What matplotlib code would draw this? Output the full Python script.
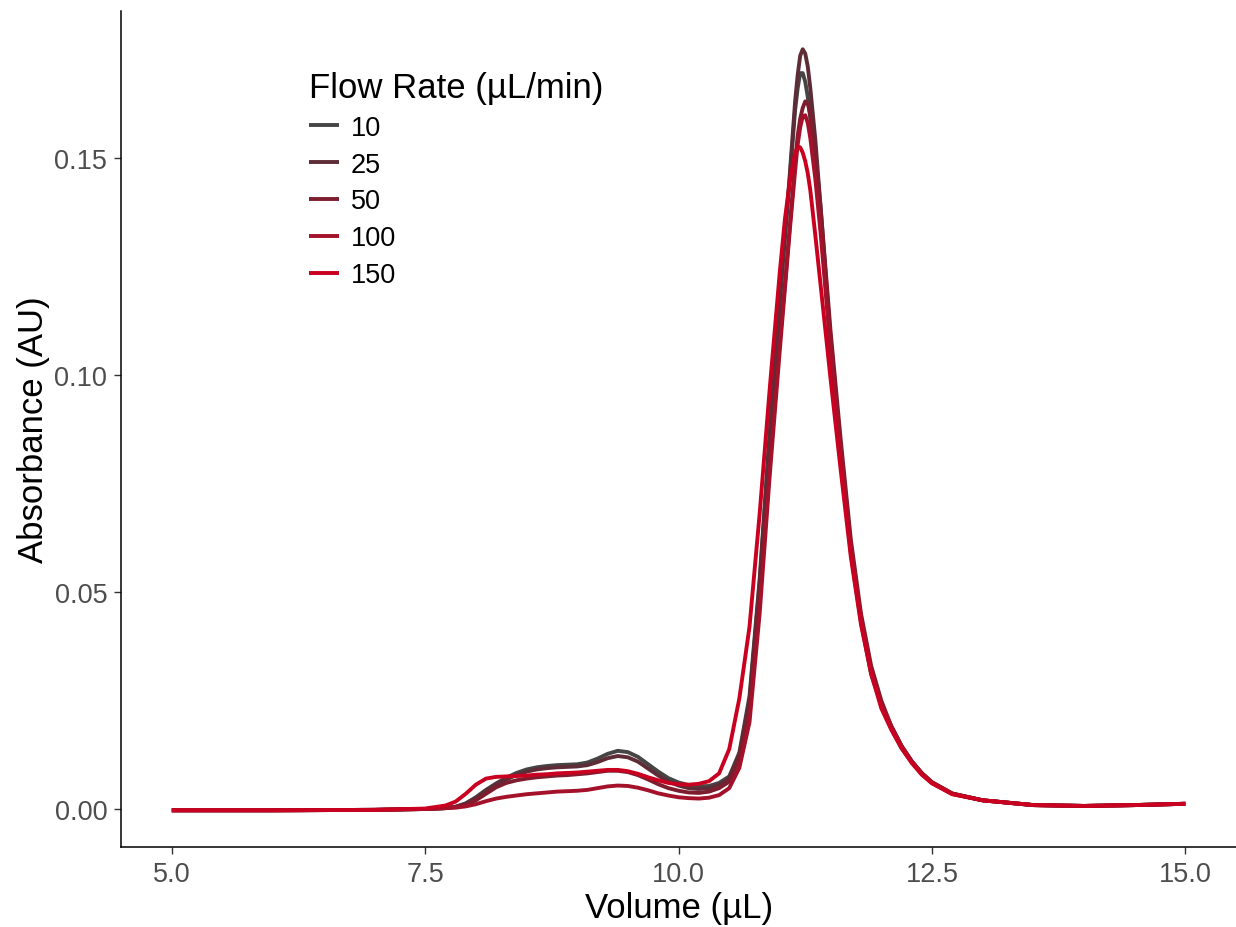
import numpy as np
import matplotlib
matplotlib.use("Agg")
import matplotlib.pyplot as plt

# elution volume (uL), shared by all runs
volume = [5.0, 6.0, 7.0, 7.5, 7.7, 7.8, 7.9,
          8.0, 8.1, 8.2, 8.3, 8.4, 8.5, 8.6, 8.7, 8.8, 8.9,
          9.0, 9.1, 9.2, 9.3, 9.4, 9.5, 9.6, 9.7, 9.8, 9.9,
          10.0, 10.1, 10.2, 10.3, 10.4, 10.5, 10.6, 10.7, 10.8, 10.9,
          11.0, 11.05, 11.1, 11.15, 11.175, 11.2, 11.225, 11.25, 11.275, 11.3, 11.35, 11.4,
          11.5, 11.6, 11.7, 11.8, 11.9,
          12.0, 12.1, 12.2, 12.3, 12.4, 12.5, 12.7, 13.0, 13.5, 14.0, 14.5, 15.0]

# absorbance (AU) per flow rate (uL/min)
abs_10 = [-0.0003, -0.0003, -0.0002, 0.0000, 0.0002, 0.0005, 0.0013,
          0.0027, 0.0044, 0.0059, 0.0072, 0.0083, 0.0091, 0.0096, 0.0099, 0.0101, 0.0102,
          0.0103, 0.0107, 0.0116, 0.0127, 0.0134, 0.0131, 0.0120, 0.0103, 0.0086, 0.0071,
          0.0061, 0.0055, 0.0052, 0.0053, 0.0060, 0.0075, 0.0130, 0.0260, 0.0530, 0.0870,
          0.1180, 0.1320, 0.1460, 0.1610, 0.1660, 0.1695, 0.1695, 0.1675, 0.1640, 0.1590, 0.1490, 0.1360,
          0.1060, 0.0810, 0.0590, 0.0430, 0.0310,
          0.0240, 0.0185, 0.0140, 0.0108, 0.0080, 0.0060, 0.0035, 0.0020, 0.0009, 0.0007, 0.0009, 0.0012]

abs_25 = [-0.0003, -0.0003, -0.0002, 0.0000, 0.0002, 0.0005, 0.0012,
          0.0025, 0.0042, 0.0057, 0.0068, 0.0078, 0.0086, 0.0091, 0.0094, 0.0096, 0.0097,
          0.0098, 0.0101, 0.0108, 0.0117, 0.0122, 0.0119, 0.0109, 0.0093, 0.0077, 0.0063,
          0.0054, 0.0048, 0.0046, 0.0048, 0.0056, 0.0070, 0.0125, 0.0250, 0.0520, 0.0860,
          0.1170, 0.1320, 0.1470, 0.1630, 0.1690, 0.1735, 0.1750, 0.1740, 0.1710, 0.1660, 0.1540, 0.1390,
          0.1080, 0.0830, 0.0600, 0.0440, 0.0320,
          0.0240, 0.0190, 0.0145, 0.0110, 0.0082, 0.0061, 0.0035, 0.0020, 0.0009, 0.0007, 0.0009, 0.0012]

abs_50 = [-0.0003, -0.0003, -0.0002, 0.0000, 0.0002, 0.0005, 0.0010,
          0.0020, 0.0035, 0.0050, 0.0060, 0.0066, 0.0070, 0.0073, 0.0075, 0.0077, 0.0078,
          0.0080, 0.0082, 0.0085, 0.0088, 0.0088, 0.0085, 0.0078, 0.0068, 0.0057, 0.0048,
          0.0042, 0.0038, 0.0037, 0.0040, 0.0048, 0.0063, 0.0115, 0.0230, 0.0480, 0.0790,
          0.1080, 0.1210, 0.1350, 0.1490, 0.1550, 0.1590, 0.1615, 0.1630, 0.1625, 0.1600, 0.1510, 0.1390,
          0.1100, 0.0850, 0.0620, 0.0450, 0.0330,
          0.0250, 0.0190, 0.0145, 0.0110, 0.0083, 0.0062, 0.0036, 0.0020, 0.0009, 0.0007, 0.0009, 0.0012]

abs_100 = [-0.0003, -0.0003, -0.0002, 0.0000, 0.0002, 0.0003, 0.0006,
           0.0011, 0.0018, 0.0024, 0.0028, 0.0031, 0.0034, 0.0036, 0.0038, 0.0040, 0.0041,
           0.0042, 0.0044, 0.0048, 0.0052, 0.0054, 0.0053, 0.0049, 0.0043, 0.0036, 0.0031,
           0.0027, 0.0025, 0.0024, 0.0026, 0.0032, 0.0048, 0.0095, 0.0200, 0.0450, 0.0770,
           0.1060, 0.1200, 0.1340, 0.1470, 0.1530, 0.1570, 0.1595, 0.1598, 0.1580, 0.1545, 0.1450, 0.1330,
           0.1060, 0.0820, 0.0600, 0.0440, 0.0320,
           0.0240, 0.0190, 0.0145, 0.0110, 0.0082, 0.0061, 0.0035, 0.0020, 0.0009, 0.0007, 0.0009, 0.0012]

abs_150 = [-0.0003, -0.0003, -0.0002, 0.0001, 0.0008, 0.0017, 0.0035,
           0.0056, 0.0070, 0.0074, 0.0075, 0.0076, 0.0077, 0.0079, 0.0080, 0.0082, 0.0083,
           0.0084, 0.0086, 0.0088, 0.0090, 0.0090, 0.0087, 0.0081, 0.0073, 0.0066, 0.0060,
           0.0057, 0.0056, 0.0058, 0.0064, 0.0082, 0.0138, 0.0255, 0.0420, 0.0680, 0.0970,
           0.1240, 0.1360, 0.1450, 0.1510, 0.1526, 0.1524, 0.1512, 0.1492, 0.1464, 0.1425, 0.1320, 0.1210,
           0.0990, 0.0780, 0.0580, 0.0425, 0.0312,
           0.0232, 0.0182, 0.0140, 0.0106, 0.0079, 0.0059, 0.0034, 0.0020, 0.0009, 0.0007, 0.0009, 0.0012]

flow_rates = ["10", "25", "50", "100", "150"]
series = [abs_10, abs_25, abs_50, abs_100, abs_150]
colors = ["#454545", "#5e2c36", "#7d1d2e", "#a3122a", "#c9001f"]

plt.rcParams["font.family"] = ["Liberation Sans", "DejaVu Sans"]

fig = plt.figure(figsize=(12.36, 9.28), dpi=100)
ax = fig.add_axes([0.098, 0.086, 0.902, 0.901])

for lab, y, c in zip(flow_rates, series, colors):
    ax.plot(volume, y, color=c, lw=2.8, label=lab, solid_capstyle="butt")

ax.set_xlim(4.5, 15.5)
ax.set_ylim(-0.0088, 0.1838)
ax.set_xticks([5.0, 7.5, 10.0, 12.5, 15.0])
ax.set_xticklabels(["5.0", "7.5", "10.0", "12.5", "15.0"])
ax.set_yticks([0.0, 0.05, 0.10, 0.15])
ax.set_yticklabels(["0.00", "0.05", "0.10", "0.15"])

for side in ["top", "right"]:
    ax.spines[side].set_visible(False)
for side in ["left", "bottom"]:
    ax.spines[side].set_linewidth(1.1)
    ax.spines[side].set_color("black")

ax.tick_params(axis="both", length=5, width=1.0, color="#333333",
               labelsize=19.5, labelcolor="#4d4d4d", pad=5)

ax.set_xlabel("Volume (µL)", fontsize=25, color="black", labelpad=3)
ax.set_ylabel("Absorbance (AU)", fontsize=25, color="black", labelpad=3)

leg = ax.legend(title="Flow Rate (µL/min)", loc="upper left",
                bbox_to_anchor=(309 / 1236, 1 - 72 / 928), bbox_transform=fig.transFigure,
                frameon=False, fontsize=19.5, title_fontsize=25,
                handlelength=1.1, handletextpad=0.45, labelspacing=0.40,
                borderpad=0, borderaxespad=0, alignment="left")

fig.savefig("out.png", dpi=100)
